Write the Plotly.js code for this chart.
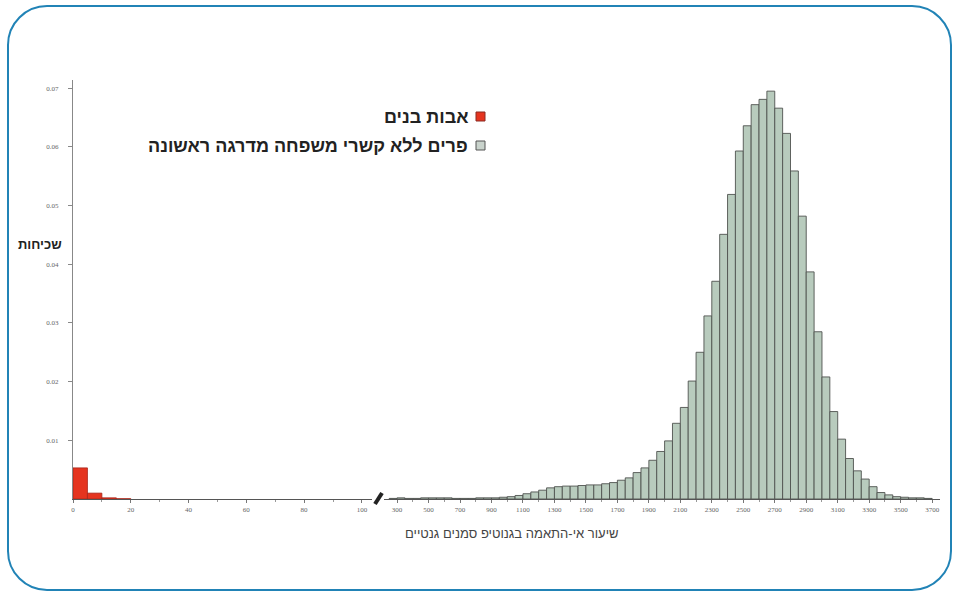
<!DOCTYPE html>
<html>
<head>
<meta charset="utf-8">
<script src="https://cdn.plot.ly/plotly-3.0.1.min.js"></script>
<style>
  html, body { margin: 0; padding: 0; background: #ffffff; }
  #wrap { position: relative; width: 959px; height: 596px; }
  #chart { width: 959px; height: 596px; }
  #frame { position: absolute; left: 7px; top: 5px; width: 941px; height: 582px;
           border: 2px solid #2183b6; border-radius: 40px; pointer-events: none; }
</style>
</head>
<body>
<div id="wrap">
  <div id="chart"></div>
  <div id="frame"></div>
</div>
<script>
// ---- data ----
const fatherSonBins = [2.5, 7.5, 12.5, 17.5];
const fatherSonFreq = [0.0053, 0.0010, 0.0002, 0.00005];

const unrelatedBins = [275, 325, 375, 425, 475, 525, 575, 625, 675, 725, 775, 825, 875, 925, 975,
  1025, 1075, 1125, 1175, 1225, 1275, 1325, 1375, 1425, 1475, 1525, 1575, 1625, 1675, 1725, 1775,
  1825, 1875, 1925, 1975, 2025, 2075, 2125, 2175, 2225, 2275, 2325, 2375, 2425, 2475, 2525, 2575,
  2625, 2675, 2725, 2775, 2825, 2875, 2925, 2975, 3025, 3075, 3125, 3175, 3225, 3275, 3325, 3375,
  3425, 3475, 3525, 3575, 3625, 3675];
const unrelatedFreq = [0.0001, 0.0002, 0.0001, 0.0001, 0.0002, 0.0002, 0.0002, 0.0002, 0.0001, 0.0001,
  0.0001, 0.0002, 0.0002, 0.0002, 0.0003, 0.0004, 0.0006, 0.0009, 0.0012, 0.0015, 0.0019, 0.0021,
  0.0022, 0.0022, 0.0023, 0.0024, 0.0024, 0.0026, 0.0028, 0.0032, 0.0036, 0.0045, 0.0053, 0.0066,
  0.0081, 0.0099, 0.0129, 0.0156, 0.0201, 0.0250, 0.0312, 0.0371, 0.0451, 0.0519, 0.0593, 0.0636,
  0.0672, 0.0681, 0.0695, 0.0666, 0.0623, 0.0559, 0.0482, 0.0387, 0.0285, 0.0208, 0.0149, 0.0102,
  0.0069, 0.0048, 0.0034, 0.0021, 0.0011, 0.0007, 0.0004, 0.0003, 0.0002, 0.0002, 0.0001];

const yTicks = [0.01, 0.02, 0.03, 0.04, 0.05, 0.06, 0.07];
const yTickText = ['0.01', '0.02', '0.03', '0.04', '0.05', '0.06', '0.07'];

const legendFatherSon = 'אבות בנים';
const legendUnrelated = 'פרים ללא קשרי משפחה מדרגה ראשונה';
const yTitle = 'שכיחות';
const xTitle = 'שיעור אי-התאמה בגנוטיפ סמנים גנטיים';

// ---- geometry helpers (plot area: x 73..940, y 80..499) ----
const L = 73, R = 940, T = 80, B = 499;
const px = v => (v - L) / (R - L);
const py = v => (B - v) / (B - T);

const tickFont = { family: 'Liberation Serif, serif', size: 7, color: '#666' };

const traces = [
  {
    type: 'bar', x: fatherSonBins, y: fatherSonFreq, width: 5,
    xaxis: 'x', yaxis: 'y', name: legendFatherSon,
    marker: { color: '#e5341f', line: { color: '#a8261a', width: 0.8 } },
    showlegend: false, hoverinfo: 'x+y'
  },
  {
    type: 'bar', x: unrelatedBins, y: unrelatedFreq, width: 50,
    xaxis: 'x2', yaxis: 'y', name: legendUnrelated,
    marker: { color: '#b8cbbd', line: { color: '#4f524f', width: 0.9 } },
    showlegend: false, hoverinfo: 'x+y'
  }
];

const layout = {
  width: 959, height: 596,
  margin: { l: L, r: 959 - R, t: T, b: 596 - B },
  paper_bgcolor: '#ffffff', plot_bgcolor: '#ffffff',
  bargap: 0,
  showlegend: false,
  xaxis: {
    domain: [0, px(372)], range: [0, 103.5],
    showgrid: false, zeroline: false,
    showline: true, linecolor: '#555', linewidth: 1.2,
    ticks: 'outside', ticklen: 3, tickcolor: '#777',
    tick0: 0, dtick: 20, tickfont: tickFont,
    minor: { dtick: 10, ticks: 'outside', ticklen: 2, tickcolor: '#999' },
    anchor: 'y', fixedrange: true
  },
  xaxis2: {
    domain: [px(384), 1], range: [217, 3750],
    showgrid: false, zeroline: false,
    showline: true, linecolor: '#555', linewidth: 1.2,
    ticks: 'outside', ticklen: 3, tickcolor: '#777',
    tick0: 300, dtick: 200, tickfont: tickFont,
    minor: { dtick: 100, ticks: 'outside', ticklen: 2, tickcolor: '#999' },
    anchor: 'y', fixedrange: true
  },
  yaxis: {
    range: [0, 0.0714],
    showgrid: false, zeroline: false,
    showline: true, linecolor: '#888', linewidth: 1,
    ticks: 'outside', ticklen: 4, tickcolor: '#888',
    tickvals: yTicks, ticktext: yTickText, tickfont: tickFont,
    ticklabelstandoff: 8,
    fixedrange: true
  },
  shapes: [
    // axis-break mark
    { type: 'line', xref: 'paper', yref: 'paper',
      x0: px(375), y0: py(504), x1: px(382), y1: py(493),
      line: { color: '#222', width: 4 } },
    // legend swatches
    { type: 'rect', xref: 'paper', yref: 'paper',
      x0: px(476), x1: px(485), y0: py(121), y1: py(112),
      fillcolor: '#e5341f', line: { color: '#8a2a22', width: 1 } },
    { type: 'rect', xref: 'paper', yref: 'paper',
      x0: px(476), x1: px(485), y0: py(150), y1: py(141),
      fillcolor: '#c9d3cc', line: { color: '#555', width: 1 } }
  ],
  annotations: [
    { xref: 'paper', yref: 'paper', x: px(470), y: py(117), xanchor: 'right', yanchor: 'middle',
      text: legendFatherSon, showarrow: false,
      font: { family: 'Liberation Sans, Arial, sans-serif', size: 18, color: '#222', weight: 'bold' } },
    { xref: 'paper', yref: 'paper', x: px(470), y: py(146), xanchor: 'right', yanchor: 'middle',
      text: legendUnrelated, showarrow: false,
      font: { family: 'Liberation Sans, Arial, sans-serif', size: 18, color: '#222', weight: 'bold' } },
    { xref: 'paper', yref: 'paper', x: px(40), y: py(244), xanchor: 'center', yanchor: 'middle',
      text: yTitle, showarrow: false,
      font: { family: 'Liberation Sans, Arial, sans-serif', size: 13, color: '#222', weight: 'bold' } },
    { xref: 'paper', yref: 'paper', x: px(512), y: py(533), xanchor: 'center', yanchor: 'middle',
      text: xTitle, showarrow: false,
      font: { family: 'Liberation Sans, Arial, sans-serif', size: 13, color: '#444' } }
  ]
};

Plotly.newPlot('chart', traces, layout, { displayModeBar: false, staticPlot: true });
</script>
</body>
</html>
